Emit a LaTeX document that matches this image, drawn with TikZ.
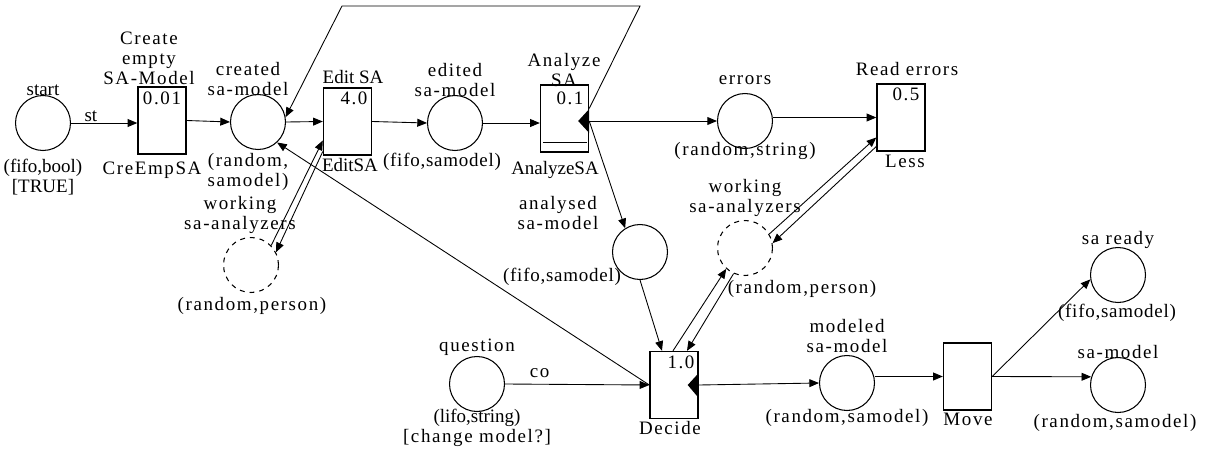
\documentclass[tikz,border=0pt]{standalone}
\usepackage{fontspec}
\setmainfont{Liberation Serif}
\newfontfamily\spacedrm[LetterSpace=8.5]{Liberation Serif}
\newfontfamily\looserm[LetterSpace=4]{Liberation Serif}
\newcommand\lblsp{\spacedrm\fontsize{10.8}{11.4}\selectfont}
\newcommand\lblmd{\looserm\fontsize{10.8}{11.4}\selectfont}
\newcommand\lblnm{\rmfamily\fontsize{10.8}{11.4}\selectfont}
\usetikzlibrary{arrows.meta}

\tikzset{
  place/.style={circle, draw, line width=0.6pt, minimum size=1.1cm, inner sep=0pt},
  resplace/.style={place, dash pattern=on 2.8pt off 2.8pt},
  trans/.style={rectangle, draw, line width=0.8pt, minimum width=0.96cm, minimum height=1.34cm, inner sep=0pt},
  arc/.style={line width=0.5pt, -{Triangle[length=5.5pt,width=4.5pt]}},
  sp/.style={font=\lblsp, align=center, inner sep=0pt},
  md/.style={font=\lblmd, align=center, inner sep=0pt},
  nm/.style={font=\lblnm, align=center, inner sep=0pt},
}

\begin{document}
\begin{tikzpicture}[x=0.02cm, y=-0.02cm]
\useasboundingbox (0,0) rectangle (1207,453);

% places
\node[place] (start) at (43,123) {};
\node[place] (created) at (258,122) {};
\node[place] (edited) at (455,123) {};
\node[place] (errors) at (745,121) {};
\node[resplace] (workL) at (251,265) {};
\node[place] (analysed) at (640,252) {};
\node[resplace] (workR) at (745,248) {};
\node[place] (question) at (477,384) {};
\node[place] (modeled) at (847,383) {};
\node[place] (ready) at (1118,275) {};
\node[place] (samodel) at (1118,385) {};

% transitions
\node[trans] (cre) at (162,120.5) {};
\node[trans] (edit) at (347.5,121.5) {};
\node[trans] (ana) at (564.5,118.5) {};
\node[trans] (less) at (901,117.5) {};
\node[trans] (decide) at (674,385) {};
\node[trans] (move) at (967.5,376.5) {};
\draw ([shift={(3,-10)}]ana.south west) -- ([shift={(-2,-10)}]ana.south east);
\fill (ana.east |- errors.west) ++(-11,0) -- ++(11,-12) -- ++(0,24) -- cycle;
\fill (decide.east) ++(-11,0) -- ++(11,-12) -- ++(0,25) -- cycle;

% texts
\node[nm] (startL) at (43,90) {start};
\node[nm] (startT) at (43,177) {(fifo,bool)\\{[TRUE]}};
\node[sp] (creL) at (149,58) {Create\\empty\\SA-Model};
\node[sp] (creD) at (162,98) {0.01};
\node[sp] (creN) at (152,170) {CreEmpSA};
\node[sp] (createdL) at (248,79) {created\\sa-model};
\node[sp] (createdT) at (248,172) {(random,\\samodel)};
\node[nm] (editL) at (353,77) {Edit SA};
\node[sp] (editD) at (354,98) {4.0};
\node[nm] (editN) at (350,165) {EditSA};
\node[sp] (editedL) at (455,80) {edited\\sa-model};
\node[md] (editedT) at (442,162) {(fifo,samodel)};
\node[sp] (anaL) at (564,70) {Analyze\\SA};
\node[sp] (anaD) at (570,98) {0.1};
\node[nm] (anaN) at (555,170) {AnalyzeSA};
\node[sp] (errorsL) at (745,80) {errors};
\node[sp] (errorsT) at (745,151) {(random,string)};
\node[sp] (lessL) at (907,69) {Read errors};
\node[sp] (lessD) at (906,94) {0.5};
\node[sp] (lessN) at (905,161) {Less};
\node[sp] (workRL) at (745,198) {working\\sa-analyzers};
\node[sp] (workRT) at (802,289) {(random,person)};
\node[sp] (workLL) at (240,215) {working\\sa-analyzers};
\node[sp] (workLT) at (252,306) {(random,person)};
\node[sp] (analysedL) at (558,213) {analysed\\sa-model};
\node[md] (analysedT) at (562,277) {(fifo,samodel)};
\node[sp] (questionL) at (477,347) {question};
\node[nm] (questionT) at (477,428) {(lifo,string)\\{\lblsp[change model?]}};
\node[sp] (decideD) at (681,362) {1.0};
\node[sp] (decideN) at (670,428) {Decide};
\node[sp] (modeledL) at (847,336) {modeled\\sa-model};
\node[sp] (modeledT) at (847,418) {(random,samodel)};
\node[sp] (moveN) at (968,419) {Move};
\node[sp] (readyL) at (1118,240) {sa ready};
\node[md] (readyT) at (1117,313) {(fifo,samodel)};
\node[sp] (samodelL) at (1118,352) {sa-model};
\node[sp] (samodelT) at (1115,423) {(random,samodel)};

% arcs
\coordinate (loopR) at (640,6);
\coordinate (loopL) at (342,6);
\draw[arc] (start.east) -- (start.east -| cre.west) node[nm, pos=0.3, above=0.5pt] (stL) {st};
\draw[arc] (cre.east) -- (created.west);
\draw[arc] (created.east) -- (edit.west);
\draw[arc] (edit.east) -- (edited.west);
\draw[arc] (edited.east) -- (edited.east -| ana.west);
\draw[arc] (ana.east |- errors.west) -- (errors.west);
\draw[arc] (errors.east |- less.west) -- (less.west);
\draw[arc] (ana.east |- errors.west) -- (analysed.122);
\draw[arc] ([shift={(0,-10)}]ana.east) -- (loopR) -- (loopL) -- (created.10);
\draw[arc] (decide.west) -- (created.-47);
\draw[arc] (question.east) -- (decide.west) node[sp, pos=0.24, above=3.5pt] (coL) {co};
\draw[arc] (analysed.south) -- ([shift={(-12,0)}]decide.north);
\draw[arc] ([shift={(-1,0)}]decide.north) -- (workR.-132);
\draw[arc] (workR.-114) -- ([shift={(13,0)}]decide.north);
\draw[arc] (workR.30) -- ([shift={(0,20)}]less.west);
\draw[arc] ([shift={(0,29)}]less.west) -- (workR.10);
\draw[arc] (workL.44) -- ([shift={(0,19)}]edit.west);
\draw[arc] ([shift={(0,30)}]edit.west) -- (workL.27);
\draw[arc] (decide.east) -- (modeled.west);
\draw[arc] (modeled.east |- move.west) -- (move.west);
\draw[arc] (move.east) -- (ready.189);
\draw[arc] (move.east) -- (samodel.163);

\end{tikzpicture}
\end{document}
